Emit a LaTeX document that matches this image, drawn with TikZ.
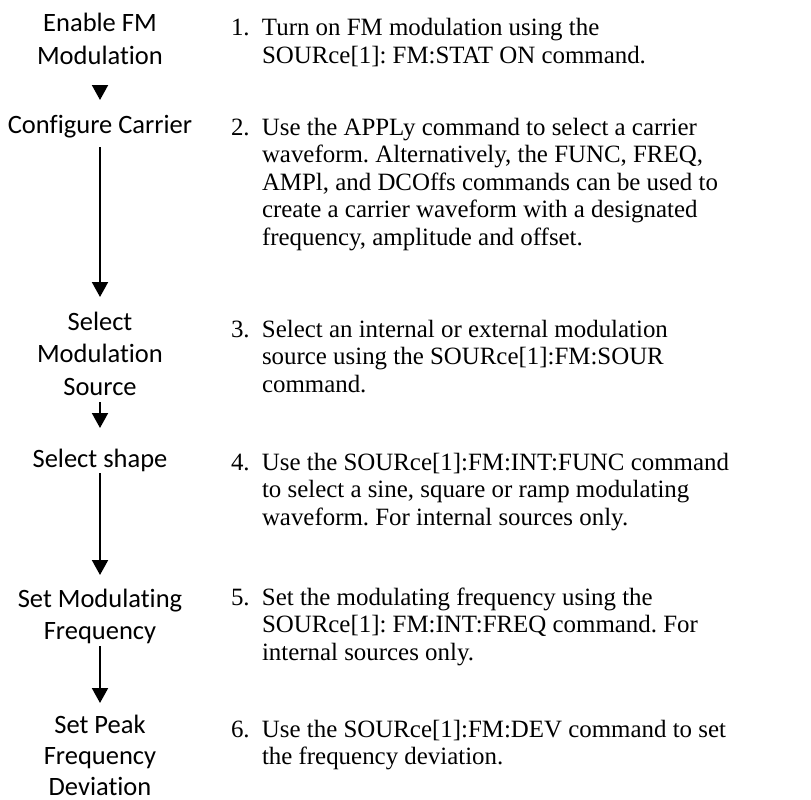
\documentclass[tikz,border=0pt]{standalone}
\usepackage{fontspec}
\setmainfont{Liberation Serif}
\newfontfamily\stepfamily[Ligatures=NoCommon]{Carlito}
\usetikzlibrary{arrows.meta}
\newcommand\stepfontsize{\stepfamily\fontsize{26.5}{32.5}\selectfont}
\newcommand\lastfontsize{\stepfamily\fontsize{26.5}{31}\selectfont}
\newcommand\descfontsize{\rmfamily\fontsize{24.9}{27.6}\selectfont}
\newcommand\itemno[1]{\makebox[31pt][l]{#1}}
\frenchspacing
\begin{document}
\begin{tikzpicture}[x=1pt,y=-1pt,
  stepbox/.style={font=\stepfontsize, anchor=base, inner sep=0pt, outer sep=0pt},
  descbox/.style={font=\descfontsize, anchor=base west, inner sep=0pt, outer sep=0pt},
  flow/.style={line width=2pt, -{Triangle[width=16pt,length=15pt]}}]
\useasboundingbox (0,0) rectangle (811,800);
% left column: steps
\node[stepbox] (s1) at (100,32) {\begin{tabular}[t]{@{}c@{}}Enable FM\\Modulation\end{tabular}};
\node[stepbox] (s2) at (100,133) {\begin{tabular}[t]{@{}c@{}}Configure Carrier\end{tabular}};
\node[stepbox] (s3) at (100,330) {\begin{tabular}[t]{@{}c@{}}Select\\Modulation\\Source\end{tabular}};
\node[stepbox] (s4) at (100,467) {\begin{tabular}[t]{@{}c@{}}Select shape\end{tabular}};
\node[stepbox] (s5) at (100,607) {\begin{tabular}[t]{@{}c@{}}Set Modulating\\Frequency\end{tabular}};
\node[stepbox, font=\lastfontsize] (s6) at (100,733) {\begin{tabular}[t]{@{}c@{}}Set Peak\\Frequency\\Deviation\\[-9pt]\end{tabular}};
% arrows
\draw[flow, shorten <=10.75pt, shorten >=10.25pt] (s1) -- (s2);
\draw[flow, shorten <=4.25pt, shorten >=10.25pt] (s2) -- (s3);
\draw[flow, shorten <=-2.75pt, shorten >=16.25pt] (s3) -- (s4);
\draw[flow, shorten <=-3.75pt, shorten >=9.25pt] (s4) -- (s5);
\draw[flow, shorten <=-3.25pt, shorten >=8.3pt] (s5) -- (s6);
% right column: descriptions
\node[descbox] (d1) at (231,36) {\begin{tabular}[t]{@{}l@{}l@{}}
\itemno{1.} & Turn on FM modulation using the\\
 & SOURce[1]: FM:STAT ON command.\end{tabular}};
\node[descbox] (d2) at (231,135) {\begin{tabular}[t]{@{}l@{}l@{}}
\itemno{2.} & Use the APPLy command to select a carrier\\
 & waveform. Alternatively, the FUNC, FREQ,\\
 & AMPl, and DCOffs commands can be used to\\
 & create a carrier waveform with a designated\\
 & frequency, amplitude and offset.\end{tabular}};
\node[descbox] (d3) at (231,337) {\begin{tabular}[t]{@{}l@{}l@{}}
\itemno{3.} & Select an internal or external modulation\\
 & source using the SOURce[1]:FM:SOUR\\
 & command.\end{tabular}};
\node[descbox] (d4) at (231,470) {\begin{tabular}[t]{@{}l@{}l@{}}
\itemno{4.} & Use the SOURce[1]:FM:INT:FUNC command\\
 & to select a sine, square or ramp modulating\\
 & waveform. For internal sources only.\end{tabular}};
\node[descbox] (d5) at (231,605) {\begin{tabular}[t]{@{}l@{}l@{}}
\itemno{5.} & Set the modulating frequency using the\\
 & SOURce[1]: FM:INT:FREQ command. For\\
 & internal sources only.\end{tabular}};
\node[descbox] (d6) at (231,737) {\begin{tabular}[t]{@{}l@{}l@{}}
\itemno{6.} & Use the SOURce[1]:FM:DEV command to set\\
 & the frequency deviation.\end{tabular}};
\end{tikzpicture}
\end{document}
